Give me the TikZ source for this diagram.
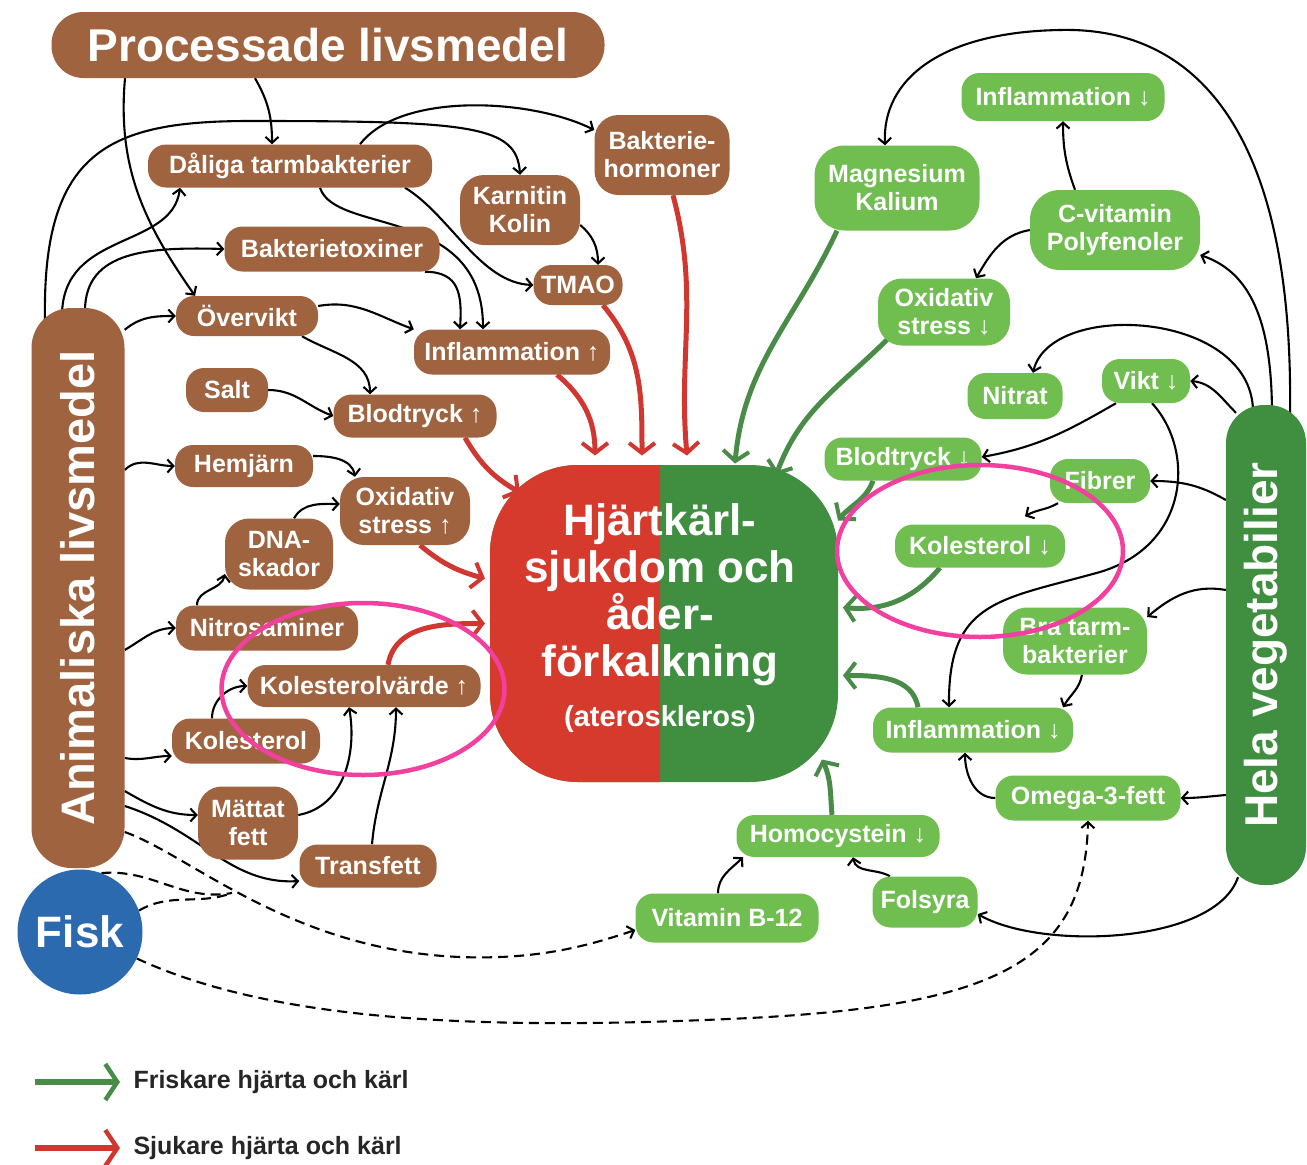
\documentclass[tikz,border=0pt]{standalone}
\usepackage{fontspec}
\setmainfont{Liberation Sans}
\usetikzlibrary{arrows.meta,shapes.geometric,calc}
\pgfdeclarelayer{back}
\pgfdeclarelayer{bg}
\pgfsetlayers{back,bg,main}
\definecolor{brn}{RGB}{160,99,63}
\definecolor{lgr}{RGB}{112,189,80}
\definecolor{dgr}{RGB}{64,143,64}
\definecolor{hred}{RGB}{214,58,44}
\definecolor{redar}{RGB}{208,55,48}
\definecolor{grar}{RGB}{72,140,72}
\definecolor{fiskblue}{RGB}{44,106,176}
\definecolor{ring}{RGB}{242,64,158}
\tikzset{
 box/.style={inner sep=0pt, align=center, text=white, font=\fontsize{25}{28}\selectfont\bfseries, rounded corners=18pt},
 bn/.style={box, fill=brn},
 gn/.style={box, fill=lgr},
 twol/.style={rounded corners=24pt},
 blk/.style={draw=black, line width=2.1pt, -{Straight Barb[length=6pt,width=13pt]}},
 dsh/.style={blk, dash pattern=on 10pt off 6pt},
 dshn/.style={draw=black, line width=2.1pt, dash pattern=on 10pt off 6pt},
 redarr/.style={draw=redar, line width=5pt, -{Straight Barb[length=10pt,width=26pt,line width=4pt]}},
 grarr/.style={draw=grar, line width=5pt, -{Straight Barb[length=10pt,width=26pt,line width=4pt]}},
 ringst/.style={draw=ring, line width=4.5pt, ellipse, inner sep=0pt},
 bigtxt/.style={text=white, font=\fontsize{46}{47}\selectfont\bfseries},
 hearttx/.style={text=white, font=\fontsize{44}{47}\selectfont\bfseries},
 legtxt/.style={anchor=west, text=black!85, font=\fontsize{25}{26}\selectfont\bfseries},
}
\begin{document}
\begin{tikzpicture}[x=1pt,y=-1pt]
\useasboundingbox (0,0) rectangle (1307,1165);
\begin{pgfonlayer}{back}
\fill[white] (0,0) rectangle (1307,1165);
\end{pgfonlayer}

% ---------- brown nodes ----------
\node[bn, bigtxt, rounded corners=32pt, minimum width=553pt, minimum height=66pt] (proc) at (328,45) {Processade livsmedel};
\node[bn, minimum width=284pt, minimum height=43pt] (dal) at (290,166) {Dåliga tarmbakterier};
\node[bn, twol, minimum width=120pt, minimum height=70pt] (karn) at (520,210) {Karnitin\\Kolin};
\node[bn, twol, minimum width=135pt, minimum height=80pt] (bhorm) at (662,155) {Bakterie-\\hormoner};
\node[bn, minimum width=215pt, minimum height=45pt] (btox) at (332,249) {Bakterietoxiner};
\node[bn, minimum width=89pt, minimum height=40pt] (tmao) at (578,285) {TMAO};
\node[bn, minimum width=142pt, minimum height=40pt] (overv) at (247,316) {Övervikt};
\node[bn, minimum width=196pt, minimum height=45pt] (inflU) at (512,352) {Inflammation ↑};
\node[bn, minimum width=82pt, minimum height=44pt] (salt) at (227,390) {Salt};
\node[bn, minimum width=163pt, minimum height=43pt] (bltU) at (415,416) {Blodtryck ↑};
\node[bn, minimum width=138pt, minimum height=42pt] (hem) at (244,466) {Hemjärn};
\node[bn, twol, minimum width=130pt, minimum height=68pt] (oxU) at (405,511) {Oxidativ\\stress ↑};
\node[bn, twol, minimum width=108pt, minimum height=71pt] (dna) at (279,554) {DNA-\\skador};
\node[bn, minimum width=182pt, minimum height=45pt] (nitro) at (267,628) {Nitrosaminer};
\node[bn, minimum width=233pt, minimum height=42pt] (kolv) at (364,686) {Kolesterolvärde ↑};
\node[bn, minimum width=148pt, minimum height=45pt] (kol) at (246,741) {Kolesterol};
\node[bn, twol, minimum width=100pt, minimum height=73pt] (matt) at (248,823) {Mättat\\fett};
\node[bn, minimum width=137pt, minimum height=43pt] (trans) at (368,866) {Transfett};
\node[bn, rounded corners=40pt, minimum width=93pt, minimum height=560pt] (anim) at (78,588) {\rotatebox{90}{\fontsize{47}{48}\selectfont\bfseries Animaliska livsmedel}};
\node[circle, fill=fiskblue, minimum size=125pt, inner sep=0pt, text=white, font=\fontsize{44}{47}\selectfont\bfseries] (fisk) at (80,932) {Fisk};

% ---------- centre ----------
\fill[dgr, rounded corners=88pt] (490,465) rectangle (838,782);
\begin{scope}
\clip (480,455) rectangle (660,790);
\fill[hred, rounded corners=88pt] (490,465) rectangle (838,782);
\end{scope}
\node[minimum width=348pt, minimum height=317pt, inner sep=0pt] (heart) at (664,623.5) {};
\node[hearttx, align=center, inner sep=0pt] (hearttxt) at (660,618) {Hjärtkärl-\\sjukdom och\\åder-\\förkalkning\\[3pt]{\fontsize{29}{32}\selectfont (ateroskleros)}};

% ---------- green nodes ----------
\node[gn, minimum width=203pt, minimum height=48pt] (inflD1) at (1063,97) {Inflammation ↓};
\node[gn, twol, rounded corners=30pt, minimum width=165pt, minimum height=85pt] (magn) at (897,188) {Magnesium\\Kalium};
\node[gn, twol, rounded corners=30pt, minimum width=170pt, minimum height=80pt] (cvit) at (1115,230) {C-vitamin\\Polyfenoler};
\node[gn, twol, minimum width=132pt, minimum height=67pt] (oxD) at (944,312) {Oxidativ\\stress ↓};
\node[gn, minimum width=95pt, minimum height=46pt] (nitrat) at (1015,396) {Nitrat};
\node[gn, minimum width=88pt, minimum height=44pt] (vikt) at (1146,381) {Vikt ↓};
\node[gn, minimum width=157pt, minimum height=43pt] (bltD) at (903,459) {Blodtryck ↓};
\node[gn, minimum width=100pt, minimum height=44pt] (fib) at (1100,481) {Fibrer};
\node[gn, minimum width=170pt, minimum height=43pt] (kolD) at (980,546) {Kolesterol ↓};
\node[gn, twol, minimum width=144pt, minimum height=67pt] (bra) at (1075,641) {Bra tarm-\\bakterier};
\node[gn, minimum width=200pt, minimum height=45pt] (inflD2) at (973,730) {Inflammation ↓};
\node[gn, minimum width=185pt, minimum height=45pt] (omega) at (1088,798) {Omega-3-fett};
\node[gn, minimum width=203pt, minimum height=42pt] (homo) at (838,836) {Homocystein ↓};
\node[gn, minimum width=105pt, minimum height=51pt] (fol) at (925,902) {Folsyra};
\node[gn, minimum width=183pt, minimum height=49pt] (b12) at (727,918) {Vitamin B-12};
\node[box, fill=dgr, rounded corners=38pt, minimum width=80pt, minimum height=480pt] (hela) at (1266,645) {\rotatebox{90}{\fontsize{46}{47}\selectfont\bfseries Hela vegetabilier}};

% ---------- legend ----------
\node[legtxt] (legG) at (130,1082) {Friskare hjärta och kärl};
\node[legtxt] (legR) at (130,1148) {Sjukare hjärta och kärl};
\coordinate (lgs) at (35,1082);
\coordinate (lrs) at (35,1148);

\begin{pgfonlayer}{bg}
% left black connectors
\draw[blk] ([xshift=-203pt]proc.south) to[out=-95,in=125] ([xshift=-52pt]overv.north);
\draw[blk] ([xshift=-73pt]proc.south) to[out=-60,in=90] ([xshift=-18pt]dal.north);
\draw[blk] ([xshift=-33pt,yshift=-12pt]anim.north) .. controls (42,150) and (110,121) .. (250,121) .. controls (470,121) and (517,125) .. (karn.north);
\draw[blk] ([xshift=70pt]dal.north) .. controls (400,92) and (530,98) .. ([yshift=25pt]bhorm.west);
\draw[blk] ([xshift=-16pt,yshift=-8pt]anim.north) .. controls (62,230) and (172,250) .. ([xshift=-110pt]dal.south);
\draw[blk] ([xshift=7pt,yshift=-3pt]anim.north) .. controls (85,250) and (150,247) .. (btox.west);
\draw[blk] ([yshift=-22pt]anim.north east) to[out=40,in=180] (overv.west);
\draw[blk] ([xshift=30pt]dal.south) .. controls (335,235) and (483,205) .. ([xshift=-29pt]inflU.north);
\draw[blk] ([xshift=115pt]dal.south) .. controls (450,215) and (480,283) .. (tmao.west);
\draw[blk] ([yshift=-15pt]karn.east) to[out=-40,in=90] ([xshift=20pt]tmao.north);
\draw[blk] ([xshift=93pt]btox.south) .. controls (460,272) and (462,295) .. ([xshift=-52pt]inflU.north);
\draw[blk] ([yshift=10pt]overv.east) to[out=10,in=160] (inflU.north west);
\draw[blk] ([xshift=55pt]overv.south) to[out=-30,in=90] ([xshift=-45pt]bltU.north);
\draw[blk] (salt.east) to[out=0,in=160] (bltU.west);
\draw[blk] ([yshift=118pt]anim.east) to[out=45,in=180] (hem.west);
\draw[blk] ([yshift=10pt]hem.east) to[out=0,in=100] ([xshift=-50pt]oxU.north);
\draw[blk] ([xshift=15pt]dna.north) to[out=60,in=180] ([yshift=7pt]oxU.west);
\draw[blk] ([xshift=-70pt]nitro.north) to[out=90,in=-100] ([yshift=-20pt]dna.west);
\draw[blk] ([yshift=-62pt]anim.east) to[out=30,in=180] (nitro.west);
\draw[blk] ([xshift=-34pt]kol.north) to[out=90,in=180] (kolv.west);
\draw[blk] ([yshift=-170pt]anim.east) to[out=-10,in=180] ([yshift=-15pt]kol.west);
\draw[blk] ([yshift=-203pt]anim.east) to[out=-30,in=180] ([yshift=8pt]matt.west);
\draw[blk] ([yshift=8pt]matt.east) to[out=10,in=-80] ([xshift=-15pt]kolv.south);
\draw[blk] ([xshift=4pt]trans.north) to[out=85,in=-90] ([xshift=32pt]kolv.south);
\draw[blk] ([yshift=-218pt]anim.east) .. controls (200,830) and (230,885) .. ([yshift=-15pt]trans.west);
% dashed
\draw[dsh] ([yshift=-244pt]anim.east) .. controls (190,855) and (290,950) .. (460,957) .. controls (540,960) and (590,945) .. ([yshift=-12pt]b12.west);
\coordinate (mrg) at (232,893);
\draw[dshn] (fisk.70) to[out=5,in=190] (mrg);
\draw[dshn] (fisk.20) to[out=30,in=200] (mrg);
\draw[dsh] (fisk.-25) .. controls (280,1025) and (500,1030) .. (750,1018) .. controls (1000,1005) and (1085,960) .. (omega.south);
% right black connectors
\draw[blk] ([xshift=24pt,yshift=-10pt]hela.north) .. controls (1295,60) and (1140,28) .. (1060,30) .. controls (940,32) and (882,80) .. ([xshift=-12pt]magn.north);
\draw[blk] ([xshift=6pt,yshift=-10pt]hela.north) .. controls (1272,320) and (1250,272) .. ([yshift=-25pt]cvit.east);
\draw[blk] ([xshift=-13pt,yshift=-5pt]hela.north) .. controls (1250,310) and (1050,300) .. ([xshift=18pt]nitrat.north);
\draw[blk] ([xshift=-30pt,yshift=-8pt]hela.north) to[out=135,in=-5] (vikt.east);
\draw[blk] ([yshift=145pt]hela.west) to[out=150,in=0] (fib.east);
\draw[blk] ([yshift=55pt]hela.west) to[out=170,in=40] ([yshift=24pt]bra.east);
\draw[blk] ([yshift=-150pt]hela.west) to[out=185,in=0] (omega.east);
\draw[blk] ([xshift=-28pt,yshift=8pt]hela.south) .. controls (1215,945) and (1040,950) .. ([yshift=-12pt]fol.east);
\draw[blk] ([xshift=-40pt]cvit.north) to[out=110,in=-90] (inflD1.south);
\draw[blk] (cvit.west) to[out=190,in=60] ([xshift=32pt]oxD.north);
\draw[blk] ([xshift=-30pt]vikt.south) to[out=-150,in=10] ([yshift=2pt]bltD.east);
\draw[blk] ([xshift=6pt]vikt.south) .. controls (1195,450) and (1190,545) .. (1100,572) .. controls (1000,600) and (948,600) .. ([xshift=-24pt]inflD2.north);
\draw[blk] ([xshift=-42pt]fib.south) to[out=-150,in=30] ([xshift=45pt,yshift=8pt]kolD.north);
\draw[blk] ([xshift=7pt]bra.south) to[out=-100,in=60] ([xshift=90pt]inflD2.north);
\draw[blk] (omega.west) to[out=180,in=-90] ([xshift=-8pt]inflD2.south);
\draw[blk] ([xshift=-9pt]b12.north) to[out=90,in=-135] ([xshift=-95pt]homo.south);
\draw[blk] ([xshift=-35pt]fol.north) to[out=150,in=-80] ([xshift=15pt]homo.south);
% thick red
\draw[redarr] ([xshift=45pt]inflU.south) to[out=-40,in=90] ([xshift=-69pt,yshift=168pt]heart.center);
\draw[redarr] ([xshift=25pt]tmao.south) to[out=-50,in=90] ([xshift=-22pt,yshift=168pt]heart.center);
\draw[redarr] ([xshift=11pt]bhorm.south) to[out=-75,in=95] ([xshift=23pt,yshift=168pt]heart.center);
\draw[redarr] ([xshift=50pt]bltU.south) to[out=-60,in=150] ([xshift=-144pt,yshift=131pt]heart.center);
\draw[redarr] ([xshift=15pt]oxU.south) to[out=-40,in=165] ([xshift=-179pt,yshift=45pt]heart.center);
\draw[redarr] ([xshift=24pt]kolv.north) to[out=80,in=180] ([xshift=-179pt]heart.center);
% thick green
\draw[grarr] ([xshift=-60pt]magn.south) to[out=-115,in=85] ([xshift=71pt,yshift=160pt]heart.center);
\draw[grarr] ([xshift=-55pt,yshift=8pt]oxD.south) to[out=-135,in=70] ([xshift=112pt,yshift=148pt]heart.center);
\draw[grarr] ([xshift=-30pt]bltD.south) to[out=-110,in=50] ([xshift=174pt,yshift=103pt]heart.center);
\draw[grarr] ([xshift=-40pt]kolD.south) to[out=-130,in=-5] ([xshift=179pt,yshift=16pt]heart.center);
\draw[grarr] ([xshift=-55pt]inflD2.north) to[out=100,in=0] ([xshift=179pt,yshift=-52pt]heart.center);
\draw[grarr] ([xshift=-6pt]homo.north) to[out=95,in=-65] ([xshift=158pt,yshift=-136pt]heart.center);
% legend arrows
\draw[draw=grar, line width=6pt, -{Straight Barb[length=12pt,width=36pt,line width=4.5pt]}] (lgs) -- ([xshift=-10pt]legG.west);
\draw[draw=redar, line width=6pt, -{Straight Barb[length=12pt,width=36pt,line width=4.5pt]}] (lrs) -- ([xshift=-10pt]legR.west);
\end{pgfonlayer}

% pink rings
\node[ringst, minimum width=283pt, minimum height=172pt] (ringL) at (363,689) {};
\node[ringst, minimum width=286pt, minimum height=172pt] (ringR) at (980,551) {};
\end{tikzpicture}
\end{document}
